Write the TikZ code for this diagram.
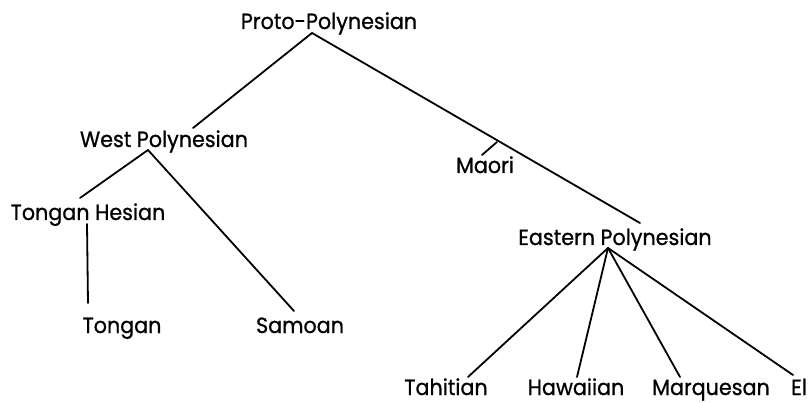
\documentclass[tikz,border=0pt]{standalone}
\usepackage{fontspec}
\setmainfont{Poppins}[FakeStretch=0.94,FakeBold=0.8]
\begin{document}
\begin{tikzpicture}[x=1pt,y=-1pt,
  lbl/.style={font=\fontsize{22}{26}\selectfont, inner sep=0pt, anchor=base},
  edge/.style={line width=1.8pt, line cap=round}]
\useasboundingbox[fill=white] (0,0) rectangle (811,403);
% labels
\node[lbl] (proto) at (329,29) {Proto-Polynesian};
\node[lbl] (west) at (164,147) {West Polynesian};
\node[lbl] (maori) at (485,173) {Maori};
\node[lbl] (tongesian) at (88,220) {Tongan Hesian};
\node[lbl] (eastern) at (615,245) {Eastern Polynesian};
\node[lbl] (tongan) at (122,333) {Tongan};
\node[lbl] (samoan) at (300,333) {Samoan};
\node[lbl] (tahitian) at (446,395) {Tahitian};
\node[lbl] (hawaiian) at (576,395) {Hawaiian};
\node[lbl] (marquesan) at (711,395) {Marquesan};
\node[lbl] (el) at (799,395) {El};
% connector end points
\coordinate (p0) at (312,33);
\coordinate (w0) at (193,128);
\coordinate (w1) at (148,150);
\coordinate (e0) at (640,223);
\coordinate (m0) at (497,142);
\coordinate (m1) at (482,155);
\coordinate (th0) at (80,198);
\coordinate (th1) at (87,224);
\coordinate (tg0) at (88,303);
\coordinate (sm0) at (294,311);
\coordinate (e1) at (608,248);
\coordinate (ta0) at (468,377);
\coordinate (ha0) at (577,377);
\coordinate (mq0) at (680,377);
\coordinate (el0) at (793,375);
% connectors
\draw[edge] (p0) -- (w0);
\draw[edge] (p0) -- (e0);
\draw[edge] (m0) -- (m1);
\draw[edge] (w1) -- (th0);
\draw[edge] (w1) -- (sm0);
\draw[edge] (th1) -- (tg0);
\draw[edge] (e1) -- (ta0);
\draw[edge] (e1) -- (ha0);
\draw[edge] (e1) -- (mq0);
\draw[edge] (e1) -- (el0);
\end{tikzpicture}
\end{document}
